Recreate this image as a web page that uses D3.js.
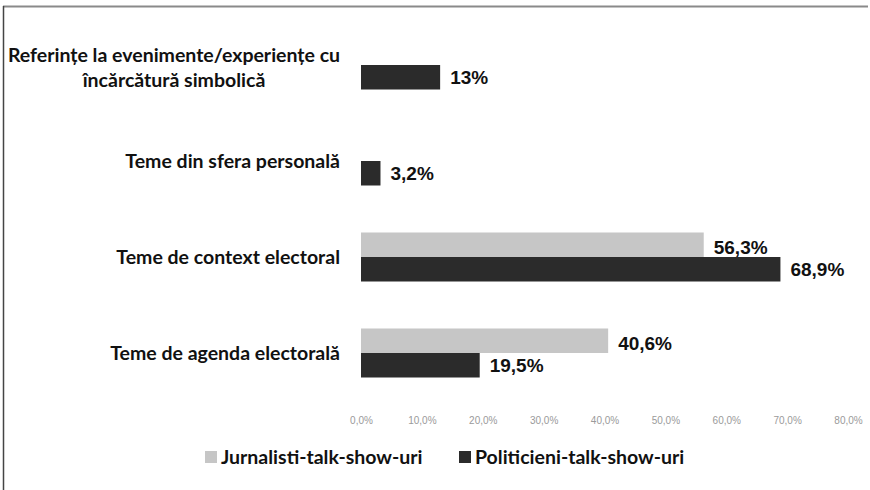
<!DOCTYPE html>
<html>
<head>
<meta charset="utf-8">
<script src="https://cdn.jsdelivr.net/npm/d3@7/dist/d3.min.js"></script>
<style>
  html, body { margin: 0; padding: 0; background: #ffffff; }
  svg { display: block; }
</style>
</head>
<body>
<div id="chart"></div>
<script>
// Topic categories (top to bottom) and their two series, in percent.
const categories = [
  ["Referințe la evenimente/experiențe cu", "încărcătură simbolică"],
  ["Teme din sfera personală"],
  ["Teme de context electoral"],
  ["Teme de agenda electorală"]
];
const seriesNames = ["Jurnalisti-talk-show-uri", "Politicieni-talk-show-uri"];
const jurnalisti = [null, null, 56.3, 40.6];
const politicieni = [13, 3.2, 68.9, 19.5];
const valueLabels = [
  [null, null, "56,3%", "40,6%"],
  ["13%", "3,2%", "68,9%", "19,5%"]
];
const tickValues = [0, 10, 20, 30, 40, 50, 60, 70, 80];
const tickLabels = ["0,0%", "10,0%", "20,0%", "30,0%", "40,0%", "50,0%", "60,0%", "70,0%", "80,0%"];

const W = 870, H = 490;
const colors = ["#c6c6c6", "#2b2b2b"];
const labelFont = "Lato, 'Open Sans', sans-serif";
const numFont = "'Liberation Sans', Arial, sans-serif";
const labelSize = 19.5;

const svg = d3.select("#chart").append("svg")
  .attr("width", W).attr("height", H);

svg.append("rect").attr("width", W).attr("height", H).attr("fill", "#fff");

// frame lines
svg.append("line").attr("x1", 3).attr("x2", 868).attr("y1", 6.5).attr("y2", 6.5)
  .attr("stroke", "#8a8a8a").attr("stroke-width", 2);
svg.append("line").attr("x1", 3.5).attr("x2", 3.5).attr("y1", 6).attr("y2", H)
  .attr("stroke", "#444").attr("stroke-width", 1.5);

const x = d3.scaleLinear().domain([0, 80]).range([361, 848]);
const idx = d3.range(categories.length);
const y = d3.scaleBand().domain(idx).range([17, 401]).paddingInner(0).paddingOuter(0);
const barH = 24.5;

const series = [jurnalisti, politicieni];

series.forEach((vals, s) => {
  const g = svg.append("g");
  const data = idx.filter(i => vals[i] != null).map(i => ({ i, v: vals[i], lab: valueLabels[s][i] }));
  const center = i => y(i) + y.bandwidth() / 2;
  const yTop = i => s === 0 ? center(i) - barH : center(i);

  g.selectAll("rect").data(data).join("rect")
    .attr("x", x(0))
    .attr("y", d => yTop(d.i))
    .attr("width", d => x(d.v) - x(0))
    .attr("height", barH)
    .attr("fill", colors[s]);

  g.selectAll("text").data(data).join("text")
    .attr("x", d => x(d.v) + 10)
    .attr("y", d => yTop(d.i) + barH / 2 + (s === 0 ? 9 : 7))
    .attr("font-family", numFont)
    .attr("font-weight", "bold")
    .attr("font-size", 19)
    .attr("fill", "#111")
    .text(d => d.lab);
});

// category labels
const cat = svg.append("g");
idx.forEach(i => {
  const lines = categories[i];
  const c = y(i) + y.bandwidth() / 2;
  if (lines.length === 1) {
    cat.append("text")
      .attr("x", 340).attr("y", c + 7)
      .attr("text-anchor", "end")
      .attr("font-family", labelFont).attr("font-weight", "bold")
      .attr("font-size", labelSize).attr("fill", "#111")
      .text(lines[0]);
  } else {
    const t = cat.append("text")
      .attr("font-family", labelFont).attr("font-weight", "bold")
      .attr("font-size", labelSize).attr("fill", "#111")
      .attr("text-anchor", "middle");
    lines.forEach((ln, k) => {
      t.append("tspan").attr("x", 174).attr("y", c - 3 + k * 25).text(ln);
    });
  }
});

// x axis tick labels
const axis = d3.axisBottom(x).tickValues(tickValues)
  .tickFormat((d, k) => tickLabels[k]).tickSize(0).tickPadding(0);
const ax = svg.append("g").attr("transform", "translate(0,417)").call(axis);
ax.select(".domain").remove();
ax.selectAll("text")
  .attr("font-family", numFont).attr("font-size", 10).attr("fill", "#9a9a9a");

// legend
const legendPos = [205, 459];
const lg = svg.append("g");
seriesNames.forEach((name, s) => {
  lg.append("rect").attr("x", legendPos[s]).attr("y", 451).attr("width", 12).attr("height", 12)
    .attr("fill", colors[s]);
  lg.append("text").attr("x", legendPos[s] + 16).attr("y", 464)
    .attr("font-family", labelFont).attr("font-weight", "bold")
    .attr("font-size", labelSize).attr("fill", "#111").text(name);
});
</script>
</body>
</html>
